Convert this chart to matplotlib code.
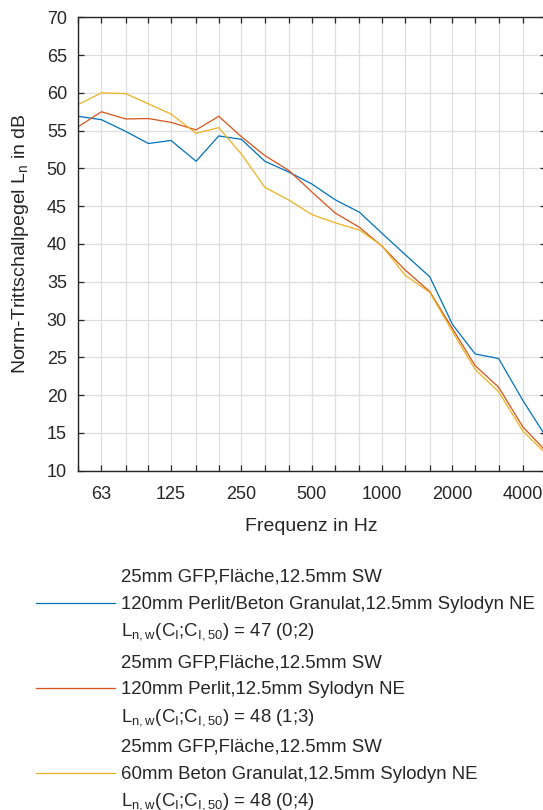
import matplotlib
matplotlib.use('Agg')
import matplotlib.pyplot as plt
from matplotlib.lines import Line2D

plt.rcParams['font.family'] = ['Liberation Sans', 'DejaVu Sans']
plt.rcParams['mathtext.default'] = 'regular'

# Terzbaender und Norm-Trittschallpegel
freqs = [50, 63, 80, 100, 125, 160, 200, 250, 315, 400, 500, 630, 800,
         1000, 1250, 1600, 2000, 2500, 3150, 4000, 5000]
ln_perlit_beton = [56.9, 56.45, 54.9, 53.3, 53.7, 50.95, 54.3, 53.85, 50.95,
                   49.5, 47.95, 45.85, 44.2, 41.4, 38.65, 35.65, 29.35, 25.45,
                   24.85, 19.3, 14.6]
ln_perlit = [55.5, 57.5, 56.55, 56.6, 56.1, 55.1, 56.9, 54.2, 51.7, 49.7,
             46.9, 44.1, 42.2, 39.7, 36.6, 33.7, 28.8, 23.9, 21.05, 15.8, 12.65]
ln_beton = [58.45, 60.0, 59.9, 58.55, 57.2, 54.65, 55.4, 51.9, 47.5, 45.8,
            43.9, 42.8, 41.85, 39.75, 35.9, 33.6, 28.4, 23.4, 20.45, 15.25, 12.3]

labelled = [63, 125, 250, 500, 1000, 2000, 4000]
yticks = [10, 15, 20, 25, 30, 35, 40, 45, 50, 55, 60, 65, 70]

# Legendeneintraege, je drei Zeilen
labels = [
    ['25mm GFP,Fläche,12.5mm SW',
     '120mm Perlit/Beton Granulat,12.5mm Sylodyn NE',
     'L$_{n,w}$(C$_I$;C$_{I,50}$) = 47 (0;2)'],
    ['25mm GFP,Fläche,12.5mm SW',
     '120mm Perlit,12.5mm Sylodyn NE',
     'L$_{n,w}$(C$_I$;C$_{I,50}$) = 48 (1;3)'],
    ['25mm GFP,Fläche,12.5mm SW',
     '60mm Beton Granulat,12.5mm Sylodyn NE',
     'L$_{n,w}$(C$_I$;C$_{I,50}$) = 48 (0;4)'],
]
colors = ['#0072BD', '#D95319', '#EDB120']
txtc = '#262626'

W, H = 543., 810.
fig = plt.figure(figsize=(W/100, H/100), dpi=100)
ax1 = fig.add_axes([78/W, 1-470.7/H, 467.5/W, 453.4/H])

for ln, c in zip([ln_perlit_beton, ln_perlit, ln_beton], colors):
    ax1.plot(freqs, ln, '-', color=c, linewidth=0.9)

ax1.set_xscale('log')
ax1.set_xlim(50, 5000)
ax1.set_ylim(10, 70)
ax1.set_xticks(freqs)
ax1.set_xticklabels([str(f) if f in labelled else '' for f in freqs])
ax1.xaxis.set_minor_locator(matplotlib.ticker.NullLocator())
ax1.set_yticks(yticks)
ax1.grid(True, color='#dedede', linewidth=0.9)
ax1.set_axisbelow(True)

ax1.tick_params(direction='in', top=True, right=True, length=4, width=0.9,
                colors=txtc, labelsize=13)
ax1.tick_params(axis='x', pad=11)
ax1.tick_params(axis='y', pad=8)
for s in ax1.spines.values():
    s.set_color(txtc)
    s.set_linewidth(1.0)

ax1.set_xlabel('Frequenz in Hz', fontsize=14, color=txtc, labelpad=11)
ax1.set_ylabel('Norm-Trittschallpegel L$_n$ in dB', fontsize=14, color=txtc,
               labelpad=11)

# Legende unter dem Diagramm
row_y = 582.0
for lines, c in zip(labels, colors):
    ys = [row_y, row_y + 27.0, row_y + 54.0]
    fig.add_artist(Line2D([36/W, 115/W], [1-(ys[1]-6.5)/H]*2, color=c,
                          linewidth=0.9, transform=fig.transFigure))
    for txt, y in zip(lines, ys):
        fig.text(121/W, 1-y/H, txt, fontsize=13.4, color=txtc,
                 ha='left', va='baseline')
    row_y += 85.0

fig.savefig('out.png', dpi=100)
